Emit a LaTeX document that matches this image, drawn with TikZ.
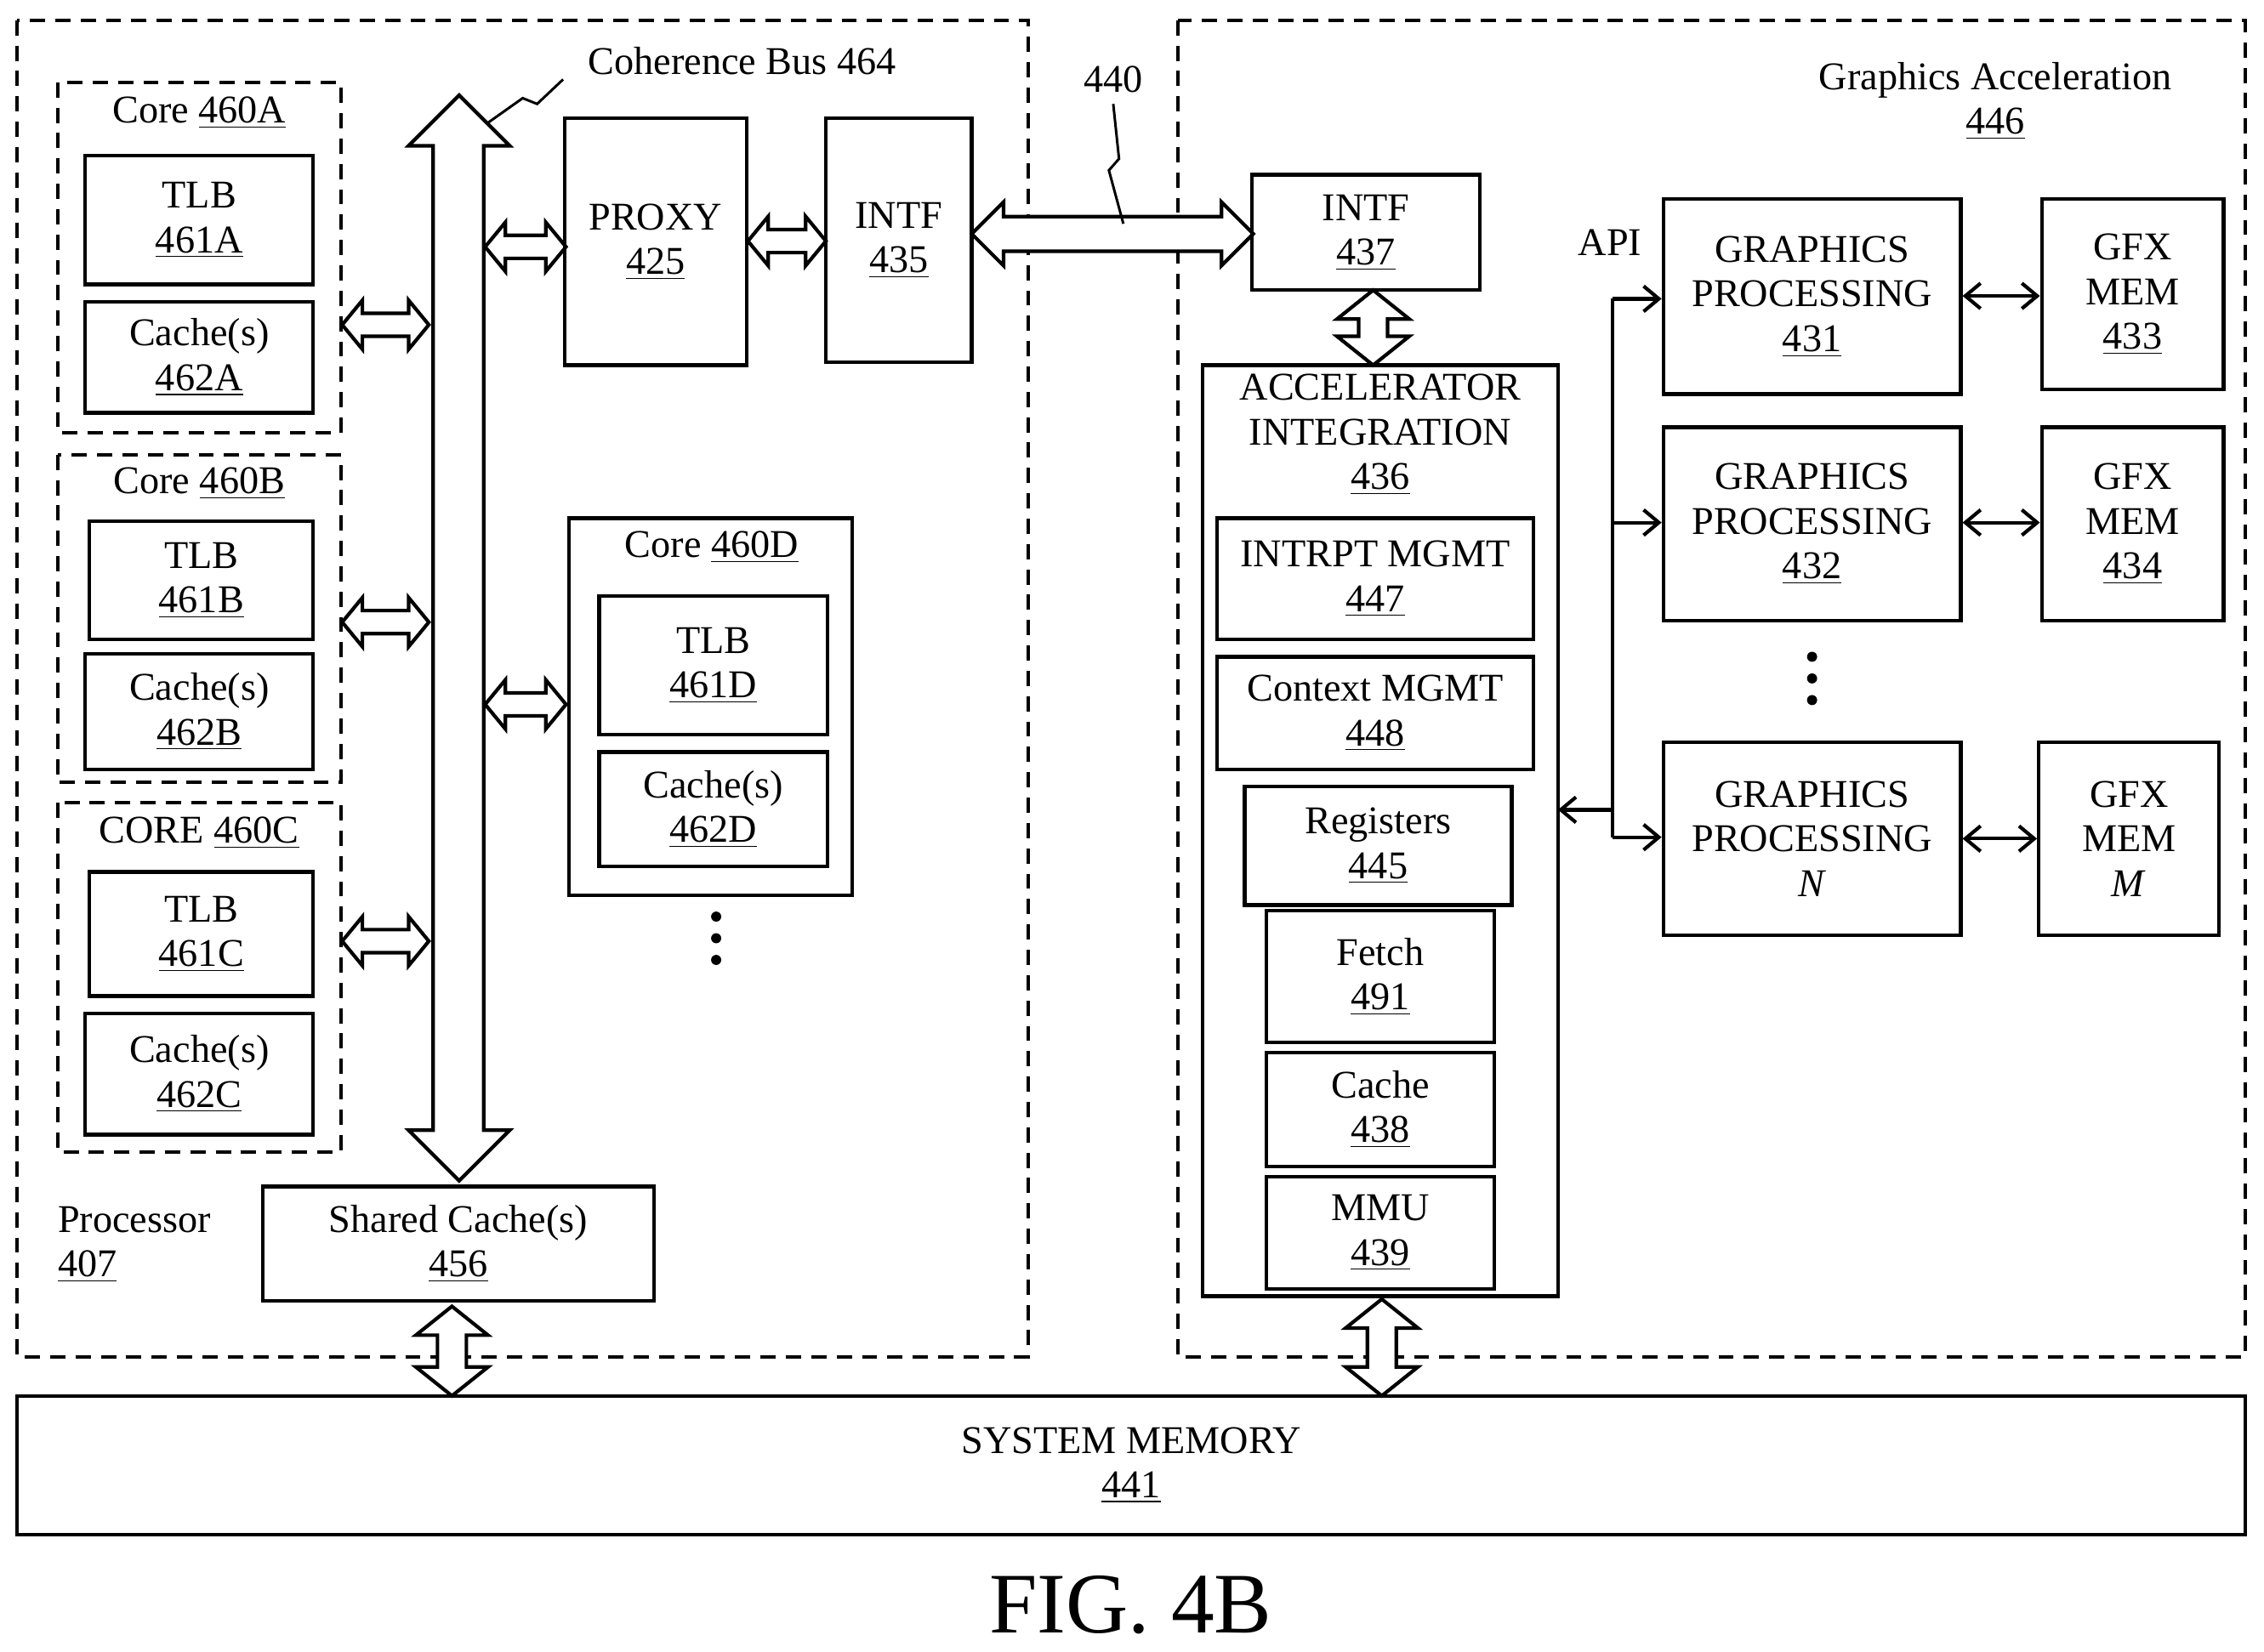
\documentclass[tikz,border=0pt]{standalone}
\usepackage{fontspec}
\setmainfont{Liberation Serif}
\usetikzlibrary{positioning,arrows.meta}

% box from corner to corner, text centred
\newcommand{\blk}[6]{%
  \node[box, minimum width={(#4-#2)*0.02cm}, minimum height={(#5-#3)*0.02cm}]
    (#1) at ({(#2+#4)/2},{(#3+#5)/2}) {#6};}
% open double arrow, horizontal: x1 x2 y
\newcommand{\hdar}[3]{%
  \draw[fat] (#1,#3) -- (#1+14,#3-17) -- (#1+14,#3-8) -- (#2-14,#3-8) -- (#2-14,#3-17)
    -- (#2,#3) -- (#2-14,#3+17) -- (#2-14,#3+8) -- (#1+14,#3+8) -- (#1+14,#3+17) -- cycle;}
% open double arrow, vertical: y1 y2 x
\newcommand{\vdar}[3]{%
  \draw[fat] (#3,#1) -- (#3-25,#1+20) -- (#3-10,#1+20) -- (#3-10,#2-20) -- (#3-25,#2-20)
    -- (#3,#2) -- (#3+25,#2-20) -- (#3+10,#2-20) -- (#3+10,#1+20) -- (#3+25,#1+20) -- cycle;}

\begin{document}
\begin{tikzpicture}[x=0.02cm, y=-0.02cm,
    font=\fontsize{15.5}{17.6}\selectfont,
    box/.style={draw, line width=1.4pt, align=center, inner sep=0pt},
    dbox/.style={draw, line width=1.4pt, dashed, dash pattern=on 6pt off 4pt},
    fat/.style={line width=1.4pt, fill=white, line join=miter},
    lbl/.style={align=center, inner sep=0pt},
    con/.style={line width=1.4pt, -{Straight Barb[length=6pt,width=10pt]}},
    dcon/.style={line width=1.4pt, {Straight Barb[length=6pt,width=10pt]}-{Straight Barb[length=6pt,width=10pt]}}]
  \useasboundingbox (0,0) rectangle (1568,1144);

  % outer regions
  \draw[dbox] (12,14) rectangle (712,940);
  \draw[dbox] (816,14) rectangle (1555,940);
  \blk{sysmem}{12}{967}{1555}{1063}{SYSTEM MEMORY\\\underline{441}}
  \node[lbl, font=\fontsize{34}{38}\selectfont] (fig) at (783,1112) {FIG. 4B};

  % cores
  \draw[dbox] (40,57) rectangle (236,300);
  \node[lbl] (ca) at (138,78) {Core \underline{460A}};
  \blk{tlba}{59}{108}{217}{197}{TLB\\\underline{461A}}
  \blk{cacha}{59}{209}{217}{286}{Cache(s)\\\underline{462A}}
  \draw[dbox] (40,315) rectangle (236,542);
  \node[lbl] (cb) at (138,335) {Core \underline{460B}};
  \blk{tlbb}{62}{361}{217}{443}{TLB\\\underline{461B}}
  \blk{cachb}{59}{453}{217}{533}{Cache(s)\\\underline{462B}}
  \draw[dbox] (40,556) rectangle (236,798);
  \node[lbl] (cc) at (138,577) {CORE \underline{460C}};
  \blk{tlbc}{62}{604}{217}{690}{TLB\\\underline{461C}}
  \blk{cachc}{59}{702}{217}{786}{Cache(s)\\\underline{462C}}
  \draw[line width=1.4pt] (394,359) rectangle (590,620);
  \node[lbl] (cd) at (493,379) {Core \underline{460D}};
  \blk{tlbd}{415}{413}{573}{509}{TLB\\\underline{461D}}
  \blk{cachd}{415}{521}{573}{600}{Cache(s)\\\underline{462D}}
  \foreach \y in {635,650,665} \fill (496,\y) circle (3.5);

  % coherence bus
  \draw[fat] (318,66) -- (283,101) -- (300,101) -- (300,783) -- (283,783) -- (318,818)
    -- (353,783) -- (335,783) -- (335,101) -- (353,101) -- cycle;
  \node[lbl] (bus) at (514,42) {Coherence Bus 464};
  \draw[line width=1pt] (338,85) -- (362,68) -- (372,72) -- (390,55);
  \hdar{237}{297}{225}
  \hdar{237}{297}{431}
  \hdar{237}{297}{652}
  \hdar{336}{392}{171}
  \hdar{336}{392}{488}

  \blk{proxy}{391}{82}{517}{253}{PROXY\\\underline{425}}
  \blk{intfa}{572}{82}{673}{251}{INTF\\\underline{435}}
  \hdar{518}{572}{167}
  \draw[fat] (673,162) -- (695,140) -- (695,150) -- (846,150) -- (846,140) -- (868,162)
    -- (846,184) -- (846,174) -- (695,174) -- (695,184) -- cycle;
  \node[lbl] (l440) at (771,55) {440};
  \draw[line width=1pt] (771,72) -- (775,110) -- (768,118) -- (778,155);

  \node[lbl, align=left] (proc) at (93,862) {Processor\\\underline{407}};
  \blk{shc}{182}{822}{453}{901}{Shared Cache(s)\\\underline{456}}
  \vdar{905}{967}{313}

  % accelerator
  \node[lbl] (gfxa) at (1382,70) {Graphics Acceleration\\\underline{446}};
  \blk{intfb}{867}{121}{1025}{201}{INTF\\\underline{437}}
  \vdar{201}{253}{951}
  \draw[line width=1.4pt] (833,253) rectangle (1079,898);
  \node[lbl] (acc) at (956,301) {ACCELERATOR\\INTEGRATION\\\underline{436}};
  \blk{intr}{843}{359}{1062}{443}{INTRPT MGMT\\\underline{447}}
  \blk{ctx}{843}{455}{1062}{533}{Context MGMT\\\underline{448}}
  \blk{reg}{862}{545}{1047}{627}{Registers\\\underline{445}}
  \blk{fetch}{877}{631}{1035}{722}{Fetch\\\underline{491}}
  \blk{cac}{877}{729}{1035}{808}{Cache\\\underline{438}}
  \blk{mmu}{877}{815}{1035}{893}{MMU\\\underline{439}}
  \vdar{900}{967}{957}

  \node[lbl] (api) at (1115,168) {API};
  \blk{gpa}{1152}{138}{1358}{273}{GRAPHICS\\PROCESSING\\\underline{431}}
  \blk{gma}{1414}{138}{1540}{270}{GFX\\MEM\\\underline{433}}
  \blk{gpb}{1152}{296}{1358}{430}{GRAPHICS\\PROCESSING\\\underline{432}}
  \blk{gmb}{1414}{296}{1540}{430}{GFX\\MEM\\\underline{434}}
  \blk{gpn}{1152}{514}{1358}{648}{GRAPHICS\\PROCESSING\\\textit{N}}
  \blk{gmn}{1412}{514}{1537}{648}{GFX\\MEM\\\textit{M}}
  \foreach \y in {455,470,485} \fill (1255,\y) circle (3.5);

  \coordinate (jt) at (1117,207);
  \coordinate (jb) at (1117,580);
  \coordinate (jm) at (1117,561);
  \draw[line width=1.4pt] (jt) -- (jb);
  \draw[con] (jm) -- (1079,561);
  \draw[con] (jt) -- (gpa.west |- jt);
  \draw[con] (1117,362) -- (gpb.west |- 0,362);
  \draw[con] (jb) -- (gpn.west |- jb);
  \draw[dcon] (gpa.east |- 0,205) -- (gma.west |- 0,205);
  \draw[dcon] (gpb.east |- 0,362) -- (gmb.west |- 0,362);
  \draw[dcon] (gpn.east |- 0,581) -- (gmn.west |- 0,581);
\end{tikzpicture}
\end{document}
